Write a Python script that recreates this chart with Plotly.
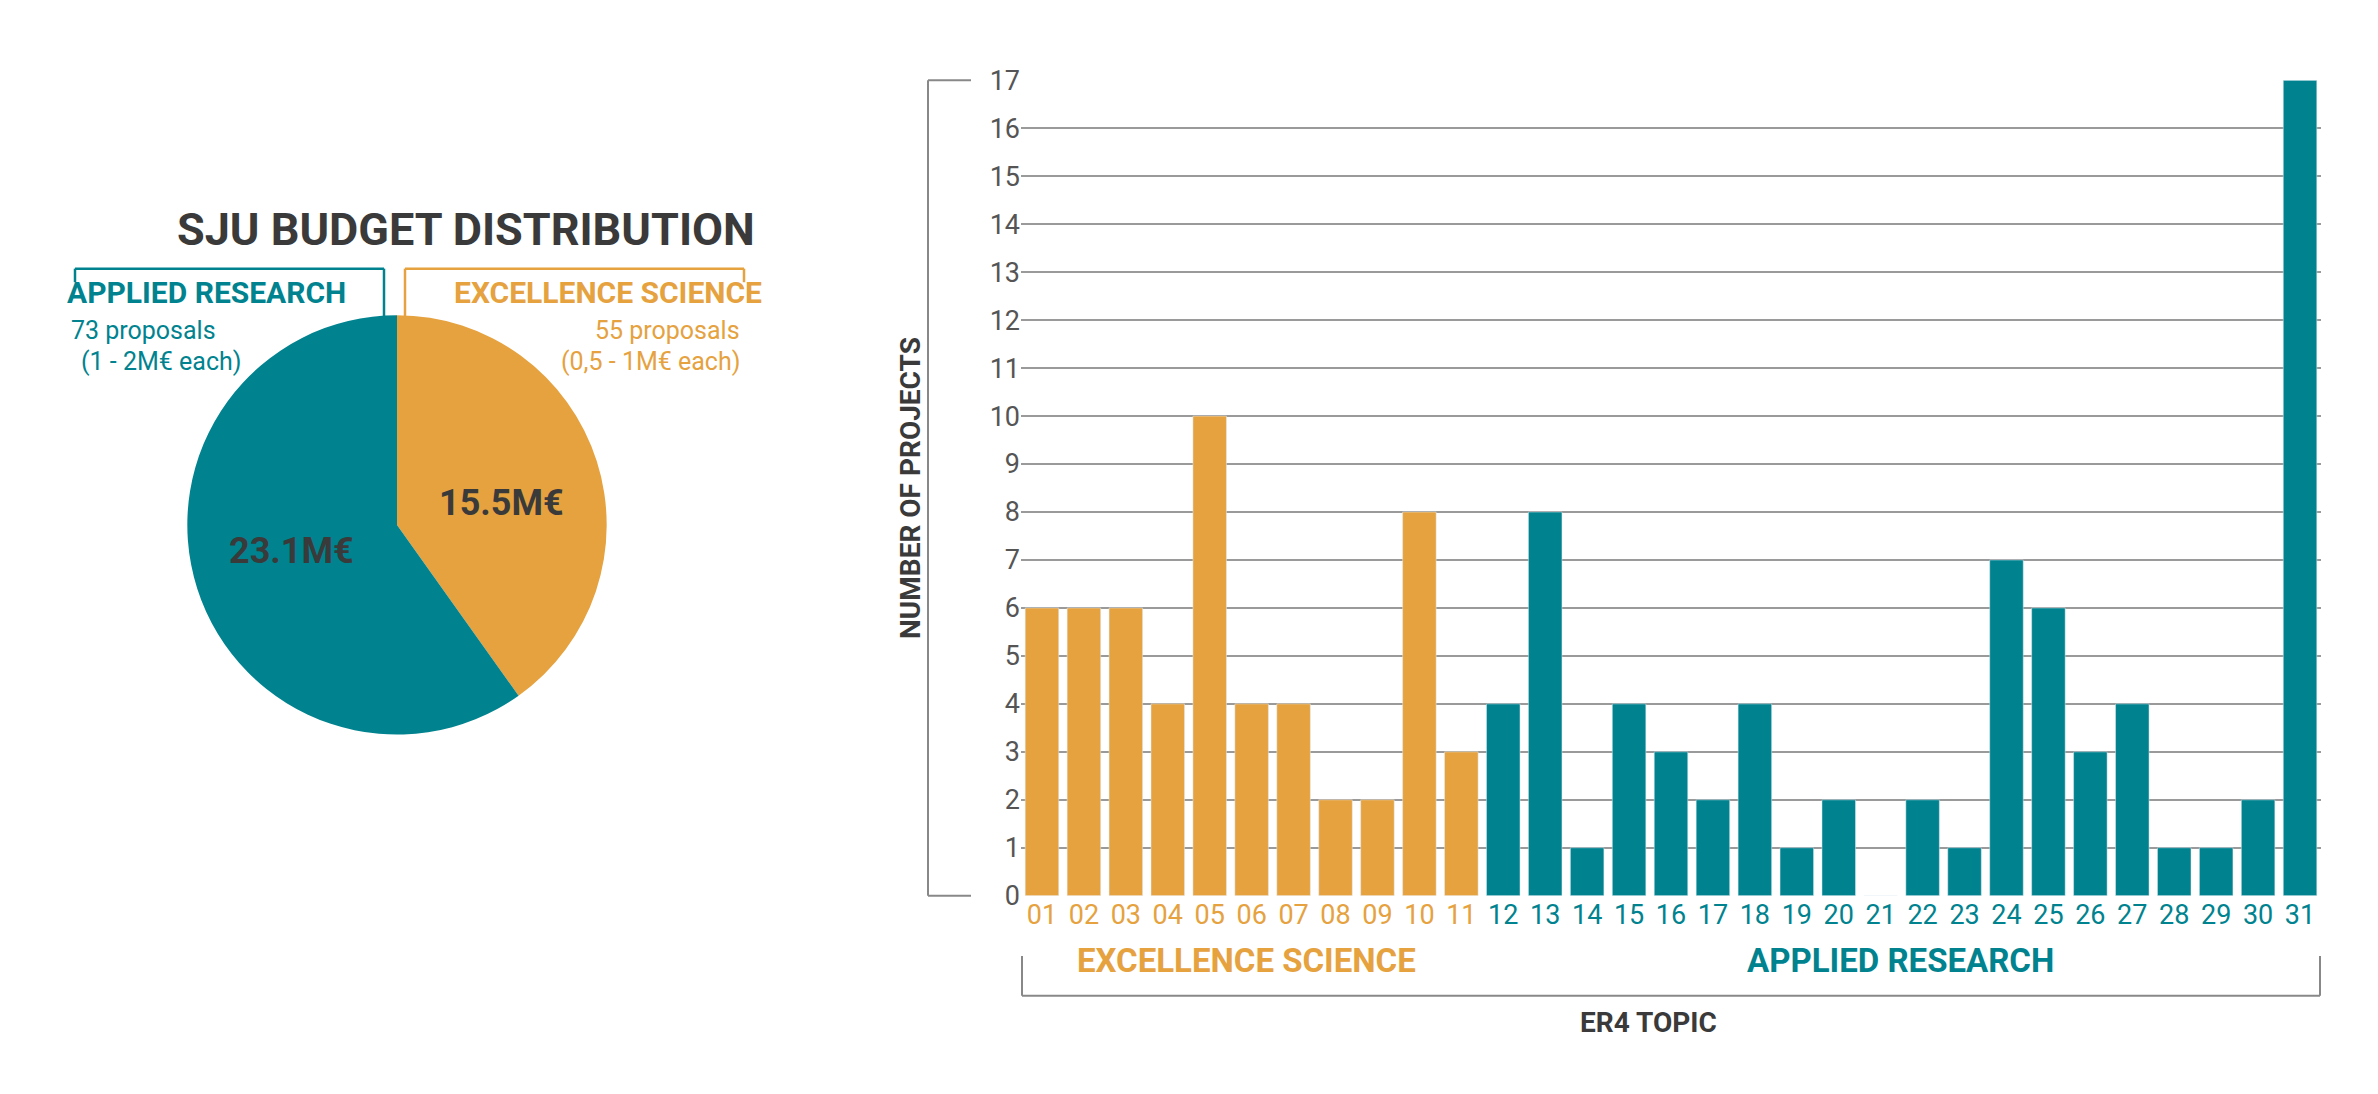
import plotly.graph_objects as go

W, H = 2378, 1094
ORANGE = "#E5A23F"
TEAL = "#00838F"
DARK = "#3a3a3a"
FONT = "Roboto"

# data
pie_labels = ["EXCELLENCE SCIENCE", "APPLIED RESEARCH"]
pie_values = [15.5, 23.1]
pie_text = ["15.5M€", "23.1M€"]

topics = ["01", "02", "03", "04", "05", "06", "07", "08", "09", "10", "11",
          "12", "13", "14", "15", "16", "17", "18", "19", "20", "21", "22",
          "23", "24", "25", "26", "27", "28", "29", "30", "31"]
projects = [6, 6, 6, 4, 10, 4, 4, 2, 2, 8, 3,
            4, 8, 1, 4, 3, 2, 4, 1, 2, 0, 2, 1, 7, 6, 3, 4, 1, 1, 2, 17]
n_excellence = 11


def px(x):
    return x / W


def py(y):
    return 1 - y / H


bar_colors = [ORANGE if i < n_excellence else TEAL for i in range(len(topics))]
tick_text = [f'<span style="color:{c}">{t}</span>' for t, c in zip(topics, bar_colors)]

fig = go.Figure()

fig.add_trace(go.Pie(
    labels=pie_labels, values=pie_values, sort=False, direction="clockwise",
    rotation=0, marker=dict(colors=[ORANGE, TEAL]), textinfo="none",
    hoverinfo="label+value", showlegend=False,
    domain=dict(x=[px(170), px(608)], y=[py(732), py(300)]),
))

fig.add_trace(go.Bar(
    x=topics, y=projects, marker=dict(color=bar_colors), showlegend=False,
))

fig.update_layout(
    width=W, height=H, paper_bgcolor="white", plot_bgcolor="white",
    font=dict(family=FONT, color=DARK),
    margin=dict(l=0, r=0, t=0, b=0),
    bargap=0.2,
    xaxis=dict(domain=[px(1013), px(2313)], tickvals=topics, ticktext=tick_text,
               tickfont=dict(size=27), showgrid=False, showline=False, ticks=""),
    yaxis=dict(domain=[py(898), py(79)], range=[0, 17], dtick=1,
               tickfont=dict(size=27, color="#555"), showgrid=True,
               gridcolor="#9a9a9a", gridwidth=1.5, zeroline=False,
               title=dict(text="<b>NUMBER OF PROJECTS</b>", font=dict(size=28, color=DARK), standoff=60)),
)

line = dict(color="#888", width=2)
shapes = [
    # y bracket
    dict(type="line", xref="paper", yref="paper", x0=px(929), x1=px(929), y0=py(79), y1=py(898), line=line),
    dict(type="line", xref="paper", yref="paper", x0=px(929), x1=px(963), y0=py(79), y1=py(79), line=line),
    dict(type="line", xref="paper", yref="paper", x0=px(929), x1=px(963), y0=py(898), y1=py(898), line=line),
    # x bracket
    dict(type="line", xref="paper", yref="paper", x0=px(1014), x1=px(2312), y0=py(1001), y1=py(1001), line=line),
    dict(type="line", xref="paper", yref="paper", x0=px(1014), x1=px(1014), y0=py(1001), y1=py(960), line=line),
    dict(type="line", xref="paper", yref="paper", x0=px(2312), x1=px(2312), y0=py(1001), y1=py(960), line=line),
    # pie header brackets
    dict(type="line", xref="paper", yref="paper", x0=px(67), x1=px(376), y0=py(252), y1=py(252), line=dict(color=TEAL, width=2.5)),
    dict(type="line", xref="paper", yref="paper", x0=px(67), x1=px(67), y0=py(252), y1=py(266), line=dict(color=TEAL, width=2.5)),
    dict(type="line", xref="paper", yref="paper", x0=px(376), x1=px(376), y0=py(252), y1=py(301), line=dict(color=TEAL, width=2.5)),
    dict(type="line", xref="paper", yref="paper", x0=px(397), x1=px(736), y0=py(252), y1=py(252), line=dict(color=ORANGE, width=2.5)),
    dict(type="line", xref="paper", yref="paper", x0=px(397), x1=px(397), y0=py(252), y1=py(301), line=dict(color=ORANGE, width=2.5)),
    dict(type="line", xref="paper", yref="paper", x0=px(736), x1=px(736), y0=py(252), y1=py(266), line=dict(color=ORANGE, width=2.5)),
]
fig.update_layout(shapes=shapes)


def note(text, x, y, size, color=DARK, xanchor="center"):
    fig.add_annotation(text=text, x=px(x), y=py(y), xref="paper", yref="paper",
                       showarrow=False, xanchor=xanchor, yanchor="middle",
                       font=dict(size=size, color=color, family=FONT))


note("<b>SJU BUDGET DISTRIBUTION</b>", 458, 212, 52)
note("APPLIED RESEARCH", 198, 277, 32, TEAL)
note("EXCELLENCE SCIENCE", 600, 277, 32, ORANGE)
note("73 proposals", 135, 316, 25, TEAL)
note("(1 - 2M€ each)", 153, 348, 25, TEAL)
note("55 proposals", 734, 316, 25, ORANGE, "right")
note("(0,5 - 1M€ each)", 734, 348, 25, ORANGE, "right")
note("<b>" + pie_text[1] + "</b>", 283, 543, 36)
note("<b>" + pie_text[0] + "</b>", 493, 493, 36)
note("EXCELLENCE SCIENCE", 1238, 965, 38, ORANGE)
note("APPLIED RESEARCH", 1892, 965, 38, TEAL)
note("<b>ER4 TOPIC</b>", 1640, 1029, 28)

# layout tweaks after comparing with the reference
fig.update_layout(yaxis_domain=[py(898), py(58)])
fig.layout.shapes[0].y0 = py(58)
fig.layout.shapes[1].y0 = py(58)
fig.layout.shapes[1].y1 = py(58)
for i in range(3):
    fig.layout.shapes[i].x0 = px(920)
fig.layout.shapes[0].x1 = px(920)
ann = fig.layout.annotations
ann[0].font.size = 45
ann[1].text = "<b>APPLIED RESEARCH</b>"
ann[1].font.size = 30
ann[2].text = "<b>EXCELLENCE SCIENCE</b>"
ann[2].font.size = 30
ann[9].text = "<b>EXCELLENCE SCIENCE</b>"
ann[9].font.size = 33
ann[10].text = "<b>APPLIED RESEARCH</b>"
ann[10].font.size = 33

fig.write_html("out.html")
